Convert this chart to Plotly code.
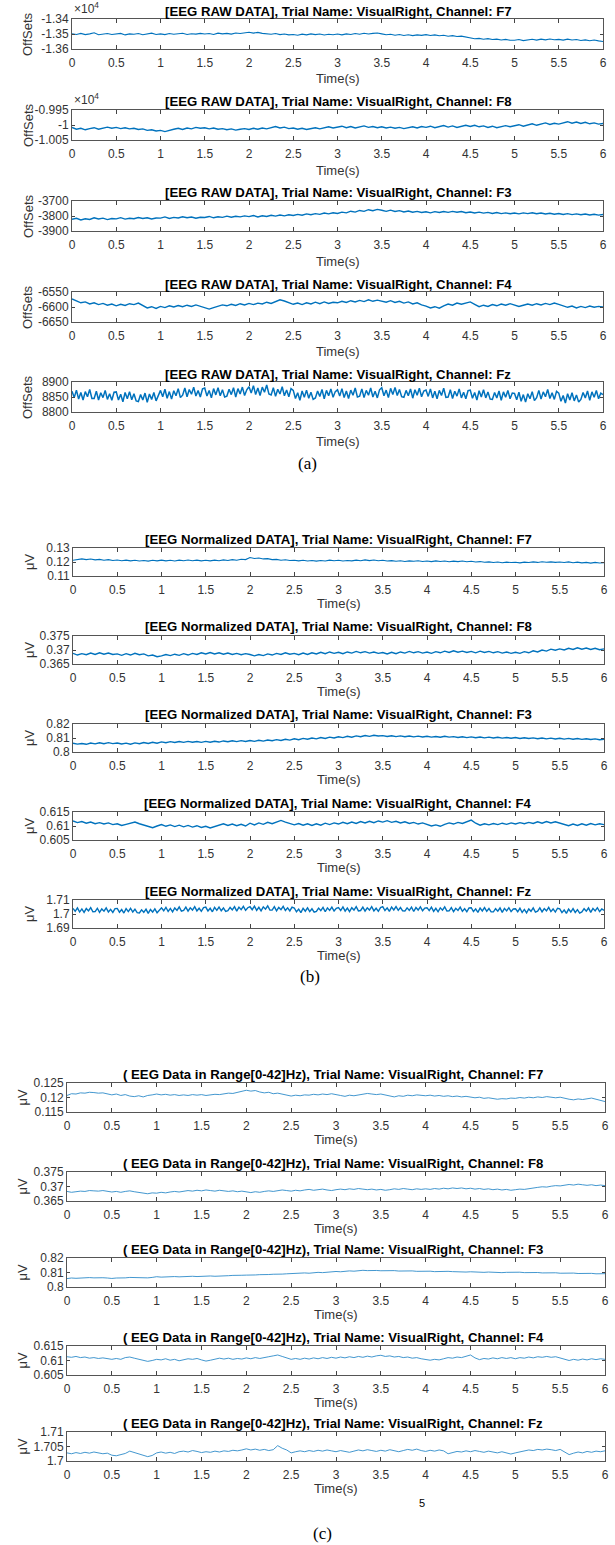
import plotly.graph_objects as go

W, H = 615, 1545

# ---------------- data ----------------
t = [round(i * 0.05, 3) for i in range(121)]        # time (s), 20 Hz readout
t_fine = [round(i * 0.025, 3) for i in range(241)]  # time (s), 40 Hz readout (noisy Fz traces)
channels = ["F7", "F8", "F3", "F4", "Fz"]
x_ticks = [0, 0.5, 1, 1.5, 2, 2.5, 3, 3.5, 4, 4.5, 5, 5.5, 6]
x_ticktext = ["0", "0.5", "1", "1.5", "2", "2.5", "3", "3.5", "4", "4.5", "5", "5.5", "6"]

raw_F7 = [-13498,-13503,-13496,-13504,-13499,-13492,-13505,-13500,-13497,-13503,
          -13501,-13496,-13506,-13499,-13502,-13497,-13505,-13500,-13494,-13503,
          -13499,-13504,-13497,-13502,-13500,-13495,-13503,-13498,-13501,-13496,
          -13500,-13497,-13503,-13494,-13499,-13496,-13501,-13493,-13497,-13491,
          -13488,-13494,-13489,-13496,-13498,-13502,-13497,-13504,-13500,-13506,
          -13503,-13508,-13501,-13506,-13499,-13504,-13500,-13507,-13502,-13505,
          -13500,-13506,-13499,-13503,-13497,-13502,-13495,-13500,-13496,-13493,
          -13499,-13505,-13502,-13508,-13503,-13510,-13505,-13511,-13506,-13509,
          -13504,-13510,-13506,-13512,-13508,-13515,-13511,-13517,-13514,-13520,
          -13528,-13532,-13529,-13535,-13531,-13537,-13534,-13540,-13536,-13542,
          -13542,-13537,-13544,-13538,-13535,-13541,-13534,-13539,-13533,-13538,
          -13536,-13541,-13534,-13540,-13537,-13543,-13539,-13545,-13540,-13546,
          -13550]
raw_F8 = [-10008,-10014,-10011,-10016,-10012,-10009,-10014,-10010,-10007,-10011,
          -10008,-10012,-10009,-10013,-10011,-10015,-10013,-10018,-10016,-10020,
          -10018,-10022,-10017,-10014,-10011,-10015,-10010,-10013,-10008,-10011,
          -10009,-10013,-10010,-10014,-10012,-10016,-10013,-10017,-10014,-10012,
          -10015,-10011,-10014,-10010,-10013,-10008,-10005,-10010,-10007,-10012,
          -10010,-10014,-10011,-10015,-10012,-10009,-10013,-10010,-10006,-10010,
          -10008,-10004,-10009,-10005,-10010,-10007,-10003,-10008,-10005,-10009,
          -10006,-10010,-10007,-10011,-10008,-10012,-10009,-10006,-10010,-10005,
          -10008,-10004,-10009,-10005,-10002,-10007,-10003,-10008,-10004,-10001,
          -10005,-10001,-10006,-10003,-10008,-10004,-10009,-10005,-10002,-10006,
          -10003,-9999,-10004,-10000,-9996,-10001,-9997,-9993,-9998,-9994,
          -9997,-9993,-9989,-9994,-9990,-9995,-9991,-9996,-9993,-9997,
          -9995]
raw_F3 = [-3822,-3815,-3826,-3818,-3823,-3812,-3820,-3814,-3824,-3817,
          -3819,-3811,-3821,-3815,-3818,-3810,-3817,-3812,-3820,-3813,
          -3814,-3806,-3816,-3809,-3813,-3805,-3812,-3807,-3815,-3808,
          -3810,-3803,-3812,-3805,-3809,-3801,-3808,-3802,-3806,-3799,
          -3804,-3797,-3806,-3798,-3803,-3795,-3801,-3793,-3799,-3792,
          -3797,-3789,-3795,-3786,-3792,-3784,-3789,-3780,-3786,-3778,
          -3783,-3774,-3779,-3768,-3774,-3763,-3769,-3758,-3765,-3756,
          -3762,-3769,-3761,-3770,-3764,-3773,-3767,-3775,-3769,-3777,
          -3772,-3779,-3771,-3777,-3770,-3776,-3769,-3775,-3770,-3778,
          -3773,-3780,-3774,-3781,-3776,-3783,-3777,-3784,-3779,-3785,
          -3780,-3786,-3779,-3784,-3778,-3785,-3780,-3787,-3782,-3788,
          -3783,-3790,-3784,-3791,-3786,-3792,-3787,-3793,-3788,-3794,
          -3790]
raw_F4 = [-6573,-6580,-6586,-6583,-6590,-6586,-6592,-6588,-6594,-6590,
          -6596,-6591,-6595,-6589,-6592,-6587,-6596,-6603,-6599,-6605,
          -6598,-6602,-6596,-6600,-6595,-6599,-6594,-6598,-6593,-6597,
          -6601,-6607,-6602,-6597,-6593,-6596,-6591,-6595,-6589,-6593,
          -6588,-6592,-6587,-6590,-6584,-6588,-6583,-6576,-6580,-6586,
          -6591,-6587,-6592,-6586,-6590,-6584,-6589,-6583,-6588,-6584,
          -6586,-6581,-6585,-6579,-6583,-6578,-6582,-6576,-6581,-6577,
          -6580,-6584,-6579,-6585,-6581,-6587,-6583,-6590,-6586,-6593,
          -6597,-6603,-6599,-6604,-6596,-6590,-6594,-6587,-6591,-6586,
          -6583,-6591,-6599,-6594,-6598,-6592,-6596,-6590,-6594,-6589,
          -6593,-6598,-6594,-6590,-6594,-6589,-6593,-6588,-6592,-6587,
          -6591,-6596,-6601,-6597,-6603,-6598,-6602,-6597,-6601,-6598,
          -6600]
raw_Fz = [8869,8848,8873,8843,8865,8840,8868,8851,8875,8845,
          8845,8869,8840,8864,8848,8872,8842,8861,8839,8866,
          8867,8840,8859,8834,8865,8844,8868,8841,8861,8837,
          8835,8858,8840,8863,8832,8860,8842,8865,8837,8856,
          8872,8851,8876,8846,8868,8843,8871,8854,8878,8848,
          8856,8880,8851,8875,8859,8883,8853,8872,8850,8877,
          8880,8853,8872,8847,8878,8857,8881,8854,8874,8850,
          8853,8876,8858,8881,8850,8878,8860,8883,8855,8874,
          8884,8863,8888,8858,8880,8855,8883,8866,8890,8860,
          8857,8881,8852,8876,8860,8884,8854,8873,8851,8878,
          8872,8845,8864,8839,8870,8849,8873,8846,8866,8842,
          8847,8870,8852,8875,8844,8872,8854,8877,8849,8868,
          8874,8853,8878,8848,8870,8845,8873,8856,8880,8850,
          8853,8877,8848,8872,8856,8880,8850,8869,8847,8874,
          8881,8854,8873,8848,8879,8858,8882,8855,8875,8851,
          8849,8872,8854,8877,8846,8874,8856,8879,8851,8870,
          8873,8852,8877,8847,8869,8844,8872,8855,8879,8849,
          8850,8874,8845,8869,8853,8877,8847,8866,8844,8871,
          8873,8846,8865,8840,8871,8850,8874,8847,8867,8843,
          8842,8865,8847,8870,8839,8867,8849,8872,8844,8863,
          8862,8841,8866,8836,8858,8833,8861,8844,8868,8838,
          8848,8872,8843,8867,8851,8875,8845,8864,8842,8869,
          8863,8836,8855,8830,8861,8840,8864,8837,8857,8833,
          8842,8865,8847,8870,8839,8867,8849,8872,8844,8863,
          8858]

norm_F7 = [0.1212,0.1218,0.1222,0.1217,0.1221,0.1215,0.1219,0.1213,0.1217,0.1211,
           0.1214,0.1209,0.1213,0.1208,0.1212,0.1207,0.1211,0.1206,0.1212,0.1208,
           0.1213,0.1208,0.1212,0.1207,0.1213,0.1209,0.1214,0.1209,0.1213,0.1208,
           0.1212,0.1208,0.1213,0.1209,0.1215,0.1211,0.1217,0.1213,0.1220,0.1217,
           0.1232,0.1225,0.1229,0.1222,0.1224,0.1217,0.1219,0.1213,0.1216,0.1211,
           0.1213,0.1208,0.1212,0.1207,0.1211,0.1206,0.1211,0.1207,0.1213,0.1209,
           0.1212,0.1207,0.1211,0.1208,0.1213,0.1209,0.1215,0.1210,0.1214,0.1209,
           0.1212,0.1207,0.1210,0.1205,0.1209,0.1204,0.1208,0.1205,0.1209,0.1204,
           0.1207,0.1203,0.1208,0.1204,0.1207,0.1202,0.1206,0.1203,0.1207,0.1202,
           0.1205,0.1200,0.1203,0.1198,0.1201,0.1196,0.1200,0.1195,0.1199,0.1196,
           0.1198,0.1194,0.1199,0.1196,0.1201,0.1197,0.1202,0.1198,0.1201,0.1197,
           0.1200,0.1196,0.1201,0.1195,0.1199,0.1194,0.1197,0.1192,0.1197,0.1193,
           0.1195]
norm_F8 = [0.3688,0.3682,0.3687,0.3683,0.3689,0.3684,0.3690,0.3685,0.3689,0.3684,
           0.3686,0.3681,0.3687,0.3682,0.3688,0.3683,0.3686,0.3679,0.3682,0.3676,
           0.3679,0.3684,0.3680,0.3685,0.3681,0.3687,0.3682,0.3688,0.3684,0.3690,
           0.3686,0.3691,0.3686,0.3690,0.3685,0.3689,0.3684,0.3688,0.3683,0.3687,
           0.3684,0.3679,0.3684,0.3680,0.3686,0.3682,0.3688,0.3684,0.3690,0.3685,
           0.3688,0.3683,0.3689,0.3684,0.3690,0.3686,0.3692,0.3687,0.3693,0.3688,
           0.3692,0.3687,0.3693,0.3689,0.3695,0.3690,0.3694,0.3689,0.3693,0.3688,
           0.3691,0.3686,0.3692,0.3687,0.3693,0.3689,0.3695,0.3690,0.3694,0.3689,
           0.3693,0.3688,0.3694,0.3690,0.3696,0.3691,0.3697,0.3692,0.3696,0.3691,
           0.3695,0.3690,0.3696,0.3691,0.3695,0.3690,0.3694,0.3689,0.3693,0.3688,
           0.3692,0.3688,0.3694,0.3690,0.3697,0.3693,0.3700,0.3696,0.3703,0.3699,
           0.3704,0.3700,0.3706,0.3702,0.3708,0.3703,0.3707,0.3702,0.3706,0.3701,
           0.3704]
norm_F3 = [0.8063,0.8056,0.8061,0.8055,0.8064,0.8058,0.8066,0.8059,0.8067,0.8060,
           0.8064,0.8057,0.8063,0.8056,0.8065,0.8059,0.8068,0.8061,0.8069,0.8063,
           0.8072,0.8066,0.8074,0.8068,0.8075,0.8069,0.8076,0.8070,0.8075,0.8069,
           0.8076,0.8070,0.8077,0.8071,0.8079,0.8073,0.8080,0.8074,0.8081,0.8075,
           0.8082,0.8076,0.8084,0.8078,0.8086,0.8080,0.8088,0.8082,0.8091,0.8085,
           0.8094,0.8088,0.8097,0.8091,0.8100,0.8094,0.8103,0.8097,0.8106,0.8100,
           0.8109,0.8103,0.8112,0.8106,0.8115,0.8109,0.8118,0.8112,0.8120,0.8114,
           0.8117,0.8111,0.8116,0.8110,0.8115,0.8109,0.8114,0.8108,0.8113,0.8107,
           0.8112,0.8106,0.8111,0.8105,0.8112,0.8106,0.8110,0.8104,0.8109,0.8103,
           0.8108,0.8102,0.8107,0.8101,0.8106,0.8100,0.8105,0.8099,0.8104,0.8098,
           0.8103,0.8097,0.8102,0.8096,0.8101,0.8095,0.8100,0.8094,0.8099,0.8093,
           0.8098,0.8092,0.8097,0.8091,0.8096,0.8090,0.8095,0.8089,0.8094,0.8088,
           0.8091]
norm_F4 = [0.6118,0.6112,0.6116,0.6110,0.6114,0.6108,0.6112,0.6107,0.6111,0.6105,
           0.6108,0.6102,0.6106,0.6111,0.6114,0.6108,0.6104,0.6098,0.6094,0.6100,
           0.6105,0.6099,0.6104,0.6098,0.6103,0.6097,0.6102,0.6096,0.6101,0.6095,
           0.6099,0.6093,0.6098,0.6103,0.6108,0.6102,0.6107,0.6101,0.6106,0.6100,
           0.6110,0.6104,0.6111,0.6106,0.6113,0.6108,0.6115,0.6120,0.6114,0.6108,
           0.6104,0.6109,0.6103,0.6108,0.6102,0.6108,0.6103,0.6110,0.6105,0.6111,
           0.6107,0.6113,0.6108,0.6114,0.6109,0.6116,0.6111,0.6117,0.6112,0.6118,
           0.6114,0.6119,0.6113,0.6117,0.6111,0.6115,0.6109,0.6113,0.6107,0.6111,
           0.6105,0.6100,0.6104,0.6099,0.6106,0.6111,0.6107,0.6113,0.6109,0.6115,
           0.6121,0.6110,0.6103,0.6108,0.6104,0.6109,0.6105,0.6110,0.6106,0.6111,
           0.6107,0.6112,0.6108,0.6113,0.6109,0.6115,0.6110,0.6116,0.6111,0.6115,
           0.6111,0.6106,0.6101,0.6107,0.6102,0.6108,0.6103,0.6109,0.6104,0.6108,
           0.6105]
norm_Fz = [1.7040,1.7019,1.7044,1.7014,1.7036,1.7011,1.7039,1.7022,1.7046,1.7016,
           1.7017,1.7041,1.7012,1.7036,1.7020,1.7044,1.7014,1.7033,1.7011,1.7038,
           1.7040,1.7013,1.7032,1.7007,1.7038,1.7017,1.7041,1.7014,1.7034,1.7010,
           1.7007,1.7030,1.7012,1.7035,1.7004,1.7032,1.7014,1.7037,1.7009,1.7028,
           1.7044,1.7023,1.7048,1.7018,1.7040,1.7015,1.7043,1.7026,1.7050,1.7020,
           1.7025,1.7049,1.7020,1.7044,1.7028,1.7052,1.7022,1.7041,1.7019,1.7046,
           1.7049,1.7022,1.7041,1.7016,1.7047,1.7026,1.7050,1.7023,1.7043,1.7019,
           1.7024,1.7047,1.7029,1.7052,1.7021,1.7049,1.7031,1.7054,1.7026,1.7045,
           1.7052,1.7031,1.7056,1.7026,1.7048,1.7023,1.7051,1.7034,1.7058,1.7028,
           1.7028,1.7052,1.7023,1.7047,1.7031,1.7055,1.7025,1.7044,1.7022,1.7049,
           1.7043,1.7016,1.7035,1.7010,1.7041,1.7020,1.7044,1.7017,1.7037,1.7013,
           1.7019,1.7042,1.7024,1.7047,1.7016,1.7044,1.7026,1.7049,1.7021,1.7040,
           1.7046,1.7025,1.7050,1.7020,1.7042,1.7017,1.7045,1.7028,1.7052,1.7022,
           1.7025,1.7049,1.7020,1.7044,1.7028,1.7052,1.7022,1.7041,1.7019,1.7046,
           1.7052,1.7025,1.7044,1.7019,1.7050,1.7029,1.7053,1.7026,1.7046,1.7022,
           1.7021,1.7044,1.7026,1.7049,1.7018,1.7046,1.7028,1.7051,1.7023,1.7042,
           1.7045,1.7024,1.7049,1.7019,1.7041,1.7016,1.7044,1.7027,1.7051,1.7021,
           1.7022,1.7046,1.7017,1.7041,1.7025,1.7049,1.7019,1.7038,1.7016,1.7043,
           1.7045,1.7018,1.7037,1.7012,1.7043,1.7022,1.7046,1.7019,1.7039,1.7015,
           1.7015,1.7038,1.7020,1.7043,1.7012,1.7040,1.7022,1.7045,1.7017,1.7036,
           1.7037,1.7016,1.7041,1.7011,1.7033,1.7008,1.7036,1.7019,1.7043,1.7013,
           1.7020,1.7044,1.7015,1.7039,1.7023,1.7047,1.7017,1.7036,1.7014,1.7041,
           1.7037,1.7010,1.7029,1.7004,1.7035,1.7014,1.7038,1.7011,1.7031,1.7007,
           1.7015,1.7038,1.7020,1.7043,1.7012,1.7040,1.7022,1.7045,1.7017,1.7036,
           1.7026]

filt_F7 = [0.1207,0.1213,0.1212,0.1216,0.1215,0.1218,0.1217,0.1215,0.1216,0.1212,
           0.1209,0.1212,0.1207,0.1210,0.1205,0.1203,0.1206,0.1202,0.1207,0.1209,
           0.1212,0.1209,0.1211,0.1208,0.1210,0.1207,0.1209,0.1207,0.1210,0.1208,
           0.1210,0.1207,0.1209,0.1211,0.1210,0.1213,0.1215,0.1214,0.1218,0.1220,
           0.1225,0.1222,0.1224,0.1219,0.1216,0.1218,0.1213,0.1215,0.1211,0.1208,
           0.1205,0.1208,0.1206,0.1209,0.1208,0.1211,0.1209,0.1212,0.1210,0.1213,
           0.1211,0.1207,0.1204,0.1208,0.1206,0.1209,0.1211,0.1214,0.1212,0.1210,
           0.1212,0.1208,0.1205,0.1202,0.1206,0.1204,0.1208,0.1206,0.1209,0.1207,
           0.1206,0.1208,0.1205,0.1207,0.1204,0.1206,0.1203,0.1205,0.1202,0.1204,
           0.1201,0.1199,0.1201,0.1197,0.1199,0.1196,0.1194,0.1196,0.1195,0.1198,
           0.1197,0.1200,0.1198,0.1201,0.1199,0.1202,0.1200,0.1203,0.1201,0.1199,
           0.1201,0.1197,0.1194,0.1192,0.1195,0.1193,0.1196,0.1198,0.1194,0.1191,
           0.1186]
filt_F8 = [0.3683,0.3680,0.3682,0.3684,0.3683,0.3686,0.3685,0.3684,0.3686,0.3683,
           0.3681,0.3683,0.3680,0.3683,0.3685,0.3682,0.3679,0.3677,0.3675,0.3678,
           0.3677,0.3680,0.3678,0.3681,0.3683,0.3681,0.3684,0.3686,0.3684,0.3687,
           0.3685,0.3688,0.3686,0.3684,0.3687,0.3685,0.3683,0.3685,0.3682,0.3684,
           0.3681,0.3679,0.3682,0.3680,0.3683,0.3685,0.3683,0.3686,0.3688,0.3686,
           0.3684,0.3687,0.3685,0.3688,0.3690,0.3687,0.3689,0.3691,0.3688,0.3686,
           0.3689,0.3691,0.3689,0.3692,0.3690,0.3693,0.3691,0.3689,0.3691,0.3688,
           0.3690,0.3687,0.3689,0.3692,0.3690,0.3693,0.3691,0.3689,0.3692,0.3690,
           0.3692,0.3690,0.3693,0.3691,0.3694,0.3692,0.3695,0.3693,0.3695,0.3692,
           0.3694,0.3691,0.3693,0.3690,0.3692,0.3689,0.3691,0.3688,0.3690,0.3687,
           0.3689,0.3691,0.3690,0.3693,0.3695,0.3697,0.3699,0.3698,0.3701,0.3703,
           0.3702,0.3705,0.3707,0.3705,0.3708,0.3706,0.3704,0.3706,0.3703,0.3705,
           0.3703]
filt_F3 = [0.8058,0.8062,0.8060,0.8063,0.8061,0.8065,0.8063,0.8066,0.8064,0.8062,
           0.8059,0.8062,0.8060,0.8063,0.8066,0.8064,0.8067,0.8065,0.8063,0.8066,
           0.8071,0.8068,0.8071,0.8069,0.8072,0.8070,0.8073,0.8071,0.8074,0.8072,
           0.8075,0.8073,0.8076,0.8074,0.8077,0.8075,0.8078,0.8080,0.8078,0.8081,
           0.8082,0.8080,0.8083,0.8085,0.8083,0.8086,0.8088,0.8086,0.8089,0.8091,
           0.8093,0.8091,0.8095,0.8097,0.8095,0.8099,0.8101,0.8099,0.8103,0.8105,
           0.8107,0.8105,0.8109,0.8111,0.8109,0.8113,0.8115,0.8113,0.8116,0.8114,
           0.8112,0.8114,0.8111,0.8113,0.8110,0.8112,0.8109,0.8111,0.8108,0.8110,
           0.8107,0.8109,0.8106,0.8108,0.8105,0.8108,0.8106,0.8104,0.8106,0.8103,
           0.8105,0.8102,0.8104,0.8101,0.8103,0.8100,0.8102,0.8099,0.8101,0.8103,
           0.8100,0.8102,0.8099,0.8101,0.8098,0.8100,0.8097,0.8099,0.8096,0.8098,
           0.8095,0.8097,0.8094,0.8096,0.8093,0.8095,0.8092,0.8094,0.8091,0.8093,
           0.8092]
filt_F4 = [0.6113,0.6111,0.6114,0.6110,0.6112,0.6108,0.6110,0.6107,0.6109,0.6106,
           0.6104,0.6107,0.6104,0.6110,0.6112,0.6108,0.6105,0.6101,0.6097,0.6100,
           0.6104,0.6102,0.6106,0.6101,0.6104,0.6099,0.6103,0.6106,0.6104,0.6107,
           0.6102,0.6098,0.6101,0.6104,0.6108,0.6105,0.6108,0.6104,0.6107,0.6105,
           0.6109,0.6106,0.6110,0.6107,0.6111,0.6113,0.6116,0.6119,0.6114,0.6109,
           0.6104,0.6107,0.6104,0.6108,0.6105,0.6109,0.6106,0.6110,0.6107,0.6111,
           0.6108,0.6112,0.6109,0.6113,0.6110,0.6114,0.6111,0.6115,0.6112,0.6116,
           0.6118,0.6114,0.6116,0.6112,0.6114,0.6110,0.6112,0.6108,0.6110,0.6106,
           0.6104,0.6101,0.6104,0.6102,0.6106,0.6110,0.6108,0.6112,0.6110,0.6114,
           0.6119,0.6109,0.6103,0.6107,0.6105,0.6109,0.6106,0.6110,0.6107,0.6110,
           0.6106,0.6110,0.6108,0.6112,0.6109,0.6113,0.6111,0.6114,0.6111,0.6113,
           0.6109,0.6105,0.6100,0.6104,0.6101,0.6105,0.6102,0.6106,0.6103,0.6106,
           0.6104]
filt_Fz = [1.7028,1.7025,1.7029,1.7026,1.7030,1.7027,1.7031,1.7028,1.7025,1.7027,
           1.7020,1.7018,1.7022,1.7026,1.7034,1.7029,1.7025,1.7020,1.7015,1.7019,
           1.7028,1.7031,1.7027,1.7030,1.7026,1.7032,1.7034,1.7031,1.7036,1.7033,
           1.7029,1.7032,1.7030,1.7034,1.7031,1.7035,1.7033,1.7037,1.7035,1.7038,
           1.7042,1.7038,1.7041,1.7037,1.7040,1.7036,1.7039,1.7053,1.7044,1.7038,
           1.7028,1.7032,1.7035,1.7032,1.7036,1.7033,1.7037,1.7034,1.7038,1.7035,
           1.7032,1.7036,1.7033,1.7030,1.7034,1.7038,1.7035,1.7039,1.7036,1.7033,
           1.7037,1.7034,1.7039,1.7035,1.7032,1.7036,1.7040,1.7037,1.7041,1.7036,
           1.7033,1.7037,1.7034,1.7038,1.7035,1.7025,1.7029,1.7033,1.7031,1.7035,
           1.7032,1.7036,1.7033,1.7030,1.7034,1.7031,1.7028,1.7032,1.7027,1.7024,
           1.7028,1.7032,1.7035,1.7038,1.7036,1.7040,1.7038,1.7041,1.7039,1.7036,
           1.7040,1.7030,1.7022,1.7027,1.7031,1.7028,1.7033,1.7030,1.7034,1.7032,
           1.7035]

# y-axis tick values / labels per panel
raw_yticks = [[-13600, -13500, -13400], [-10050, -10000, -9950], [-3900, -3800, -3700],
              [-6650, -6600, -6550], [8800, 8850, 8900]]
raw_yticktext = [["-1.36", "-1.35", "-1.34"], ["-1.005", "-1", "-0.995"], ["-3900", "-3800", "-3700"],
                 ["-6650", "-6600", "-6550"], ["8800", "8850", "8900"]]
norm_yticks = [[0.11, 0.12, 0.13], [0.365, 0.37, 0.375], [0.80, 0.81, 0.82],
               [0.605, 0.61, 0.615], [1.69, 1.70, 1.71]]
norm_yticktext = [["0.11", "0.12", "0.13"], ["0.365", "0.37", "0.375"], ["0.8", "0.81", "0.82"],
                  ["0.605", "0.61", "0.615"], ["1.69", "1.7", "1.71"]]
filt_yticks = [[0.115, 0.12, 0.125], [0.365, 0.37, 0.375], [0.80, 0.81, 0.82],
               [0.605, 0.61, 0.615], [1.70, 1.705, 1.71]]
filt_yticktext = [["0.115", "0.12", "0.125"], ["0.365", "0.37", "0.375"], ["0.8", "0.81", "0.82"],
                  ["0.605", "0.61", "0.615"], ["1.7", "1.705", "1.71"]]

raw_series = [raw_F7, raw_F8, raw_F3, raw_F4, raw_Fz]
norm_series = [norm_F7, norm_F8, norm_F3, norm_F4, norm_Fz]
filt_series = [filt_F7, filt_F8, filt_F3, filt_F4, filt_Fz]
raw_times = [t, t, t, t, t_fine]
norm_times = [t, t, t, t, t_fine]
filt_times = [t, t, t, t, t]

# ---------------- layout (pixels) ----------------
sections = [
    dict(series=raw_series, times=raw_times, yt=raw_yticks, ytt=raw_yticktext,
         title="[EEG RAW DATA], Trial Name: VisualRight, Channel: {}", ylab="OffSets",
         tops=[19, 110, 201, 292, 382], h=30, x0=72, x1=603, ylab_x=28,
         title_dy=8, time_dy=30, color="#0072BD",
         lw=[1.1, 1.4, 1.4, 1.4, 1.5], title_x=338),
    dict(series=norm_series, times=norm_times, yt=norm_yticks, ytt=norm_yticktext,
         title="[EEG Normalized DATA], Trial Name: VisualRight, Channel: {}", ylab="μV",
         tops=[548, 636, 724, 812, 900], h=28, x0=73, x1=604, ylab_x=29,
         title_dy=9, time_dy=27, color="#0072BD",
         lw=[1.1, 1.4, 1.4, 1.4, 1.4], title_x=338),
    dict(series=filt_series, times=filt_times, yt=filt_yticks, ytt=filt_yticktext,
         title="( EEG Data in Range[0-42]Hz), Trial Name: VisualRight, Channel: {}", ylab="μV",
         tops=[1083, 1172, 1258, 1346, 1432], h=29, x0=67, x1=605, ylab_x=22,
         title_dy=9, time_dy=27, color="#2E8BC9",
         lw=[0.9, 0.9, 0.9, 0.9, 0.9], title_x=333),
]

def px(x):
    return x / W

def py(y):
    return 1 - y / H

FONT = "Liberation Sans, Arial, sans-serif"
TXT = "#333333"
fig = go.Figure()
annotations = []
layout_axes = {}
k = 0
for sec in sections:
    for i, ch in enumerate(channels):
        k += 1
        sfx = "" if k == 1 else str(k)
        top = sec["tops"][i]
        bot = top + sec["h"]
        fig.add_trace(go.Scatter(x=sec["times"][i], y=sec["series"][i], mode="lines",
                                 line=dict(color=sec["color"], width=sec["lw"][i]),
                                 xaxis="x" + sfx, yaxis="y" + sfx, showlegend=False,
                                 hoverinfo="skip"))
        common = dict(showline=True, linecolor="#555555", linewidth=1, mirror="ticks",
                      ticks="inside", tickcolor="#444444", tickwidth=1,
                      showgrid=False, zeroline=False, automargin=False,
                      tickfont=dict(family=FONT, size=12, color=TXT))
        layout_axes["xaxis" + sfx] = dict(domain=[px(sec["x0"]), px(sec["x1"])],
                                          range=[0, 6], tickvals=x_ticks, ticktext=x_ticktext,
                                          anchor="y" + sfx, ticklen=4, ticklabelstandoff=3,
                                          **common)
        yt = sec["yt"][i]
        layout_axes["yaxis" + sfx] = dict(domain=[py(bot), py(top)], range=[yt[0], yt[-1]],
                                          tickvals=yt, ticktext=sec["ytt"][i],
                                          anchor="x" + sfx, ticklen=3, **common)
        cx = sec["title_x"]
        annotations.append(dict(text="<b>" + sec["title"].format(ch) + "</b>",
                                x=px(cx), y=py(top - sec["title_dy"]), xref="paper", yref="paper",
                                xanchor="center", yanchor="middle", showarrow=False,
                                font=dict(family=FONT, size=13.2, color="#000000")))
        annotations.append(dict(text="Time(s)", x=px((sec["x0"] + sec["x1"]) / 2),
                                y=py(bot + sec["time_dy"]), xref="paper", yref="paper",
                                xanchor="center", yanchor="middle", showarrow=False,
                                font=dict(family=FONT, size=13, color=TXT)))
        annotations.append(dict(text=sec["ylab"], x=px(sec["ylab_x"]), y=py((top + bot) / 2),
                                xref="paper", yref="paper", xanchor="center", yanchor="middle",
                                textangle=-90, showarrow=False,
                                font=dict(family=FONT, size=13, color=TXT)))
        if sec["ylab"] == "OffSets" and i < 2:
            annotations.append(dict(text="×10<sup>4</sup>", x=px(sec["x0"]), y=py(top - 1),
                                    xref="paper", yref="paper", xanchor="left", yanchor="bottom",
                                    showarrow=False, font=dict(family=FONT, size=12, color=TXT)))

for lab, xx, yy in [("(a)", 307, 463), ("(b)", 310, 976), ("(c)", 322, 1533)]:
    annotations.append(dict(text=lab, x=px(xx), y=py(yy), xref="paper", yref="paper",
                            xanchor="center", yanchor="middle", showarrow=False,
                            font=dict(family="Liberation Serif, Times New Roman, serif",
                                      size=17, color="#000000")))
annotations.append(dict(text="5", x=px(422), y=py(1503), xref="paper", yref="paper",
                        xanchor="center", yanchor="middle", showarrow=False,
                        font=dict(family=FONT, size=11, color="#000000")))

fig.update_layout(width=W, height=H, autosize=False,
                  margin=dict(l=0, r=0, t=0, b=0, autoexpand=False),
                  paper_bgcolor="white", plot_bgcolor="white",
                  annotations=annotations, **layout_axes)

fig.write_html("out.html", config={"displayModeBar": False},
               post_script="document.body.style.margin='0px';"
                           "document.body.style.padding='0px';"
                           "document.body.style.overflow='hidden';")
